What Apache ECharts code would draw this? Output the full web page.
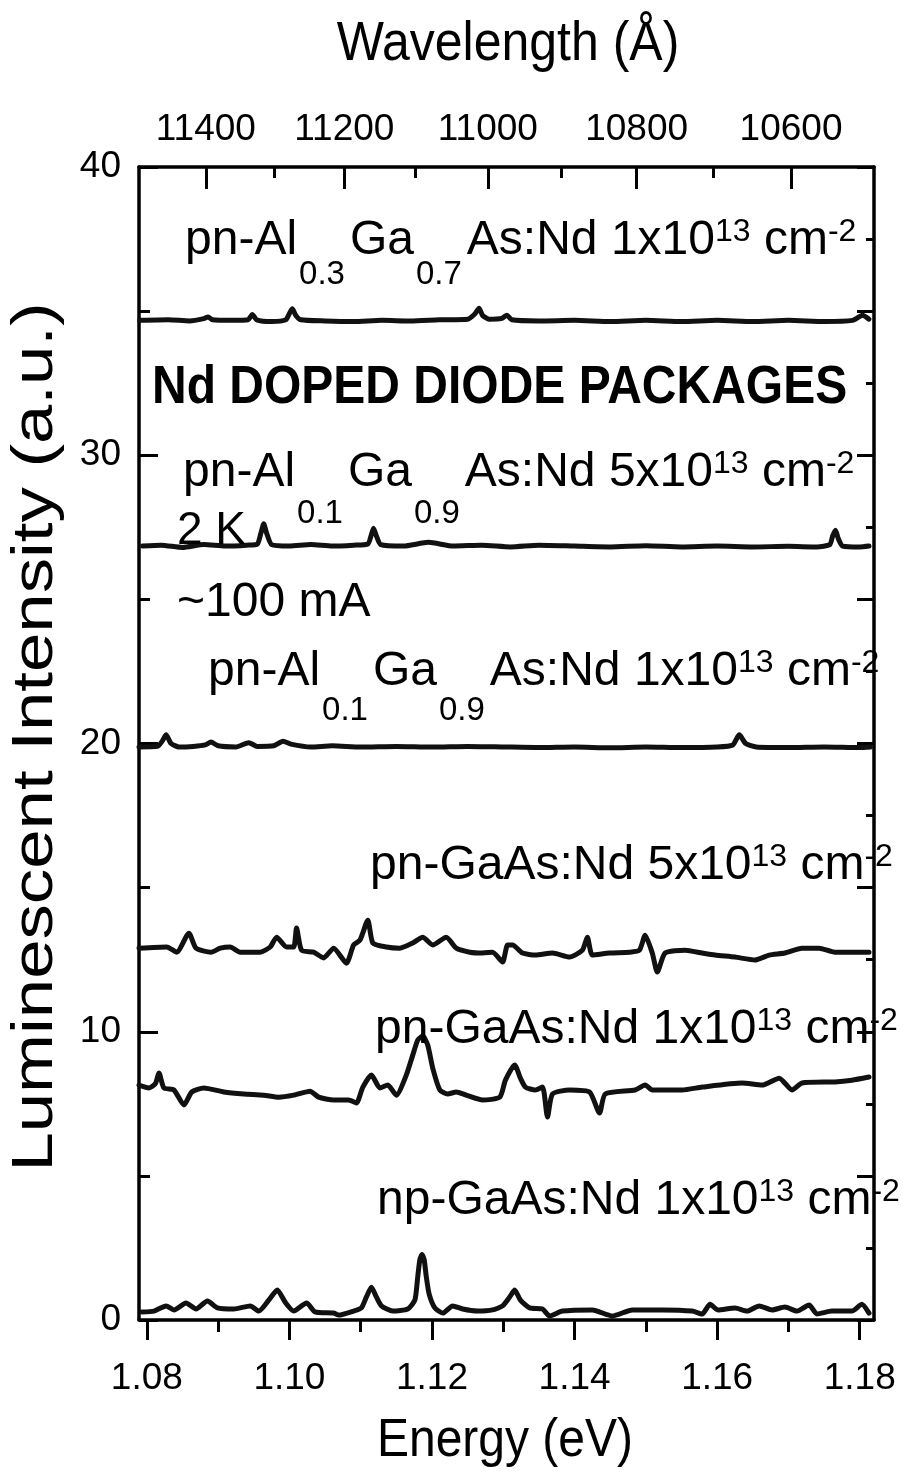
<!DOCTYPE html>
<html><head><meta charset="utf-8">
<script src="https://cdn.jsdelivr.net/npm/echarts@6/dist/echarts.min.js"></script>
<style>html,body{margin:0;padding:0;background:#fff}#c{width:923px;height:1474px}</style>
</head><body><div id="c"></div><script>
const FONT = '"Liberation Sans", Arial, Helvetica, sans-serif';
const HC = 12398.4; // eV * Angstrom

// Axis ticks
const energyTicks = [1.08, 1.10, 1.12, 1.14, 1.16, 1.18];
const energyMinorTicks = [1.09, 1.11, 1.13, 1.15, 1.17];
const wavelengthTicks = [11400, 11200, 11000, 10800, 10600];
const wavelengthMinorTicks = [11300, 11100, 10900, 10700];
const intensityMinorLeft = [5, 15, 25, 35];
const intensityMinorRight = [2.5, 7.5, 12.5, 17.5, 22.5, 27.5, 32.5, 37.5];

// Spectra: [energy (eV), intensity (a.u., offset)]
const pnAl03_1e13 = [[1.0790,34.68],[1.0830,34.70],[1.0860,34.66],[1.0880,34.74],[1.0886,34.80],[1.0892,34.70],[1.0920,34.68],[1.0942,34.70],[1.0948,34.88],[1.0954,34.70],[1.0975,34.64],[1.0995,34.70],[1.1000,34.92],[1.1004,35.08],[1.1009,34.85],[1.1016,34.70],[1.1050,34.66],[1.1090,34.64],[1.1130,34.68],[1.1170,34.66],[1.1210,34.70],[1.1250,34.72],[1.1260,34.90],[1.1266,35.10],[1.1271,34.85],[1.1280,34.72],[1.1298,34.75],[1.1305,34.86],[1.1312,34.70],[1.1350,34.66],[1.1400,34.68],[1.1450,34.64],[1.1500,34.68],[1.1550,34.64],[1.1600,34.68],[1.1650,34.64],[1.1700,34.68],[1.1750,34.64],[1.1790,34.68],[1.1804,34.86],[1.1813,34.72]];
const pnAl01_5e13 = [[1.0794,26.85],[1.0820,26.88],[1.0850,26.80],[1.0880,26.90],[1.0910,26.85],[1.0940,26.88],[1.0955,26.92],[1.0960,27.30],[1.0964,27.62],[1.0968,27.30],[1.0975,26.90],[1.1000,26.85],[1.1030,26.90],[1.1060,26.85],[1.1090,26.88],[1.1110,26.92],[1.1115,27.25],[1.1118,27.47],[1.1122,27.20],[1.1128,26.90],[1.1160,26.85],[1.1195,26.98],[1.1230,26.85],[1.1270,26.88],[1.1310,26.82],[1.1350,26.88],[1.1400,26.85],[1.1450,26.82],[1.1500,26.86],[1.1550,26.82],[1.1600,26.85],[1.1650,26.82],[1.1700,26.84],[1.1740,26.82],[1.1758,26.90],[1.1762,27.20],[1.1766,27.40],[1.1770,27.10],[1.1776,26.85],[1.1800,26.82],[1.1813,26.85]];
const pnAl01_1e13 = [[1.0789,19.88],[1.0815,19.90],[1.0822,20.10],[1.0827,20.30],[1.0834,20.00],[1.0845,19.88],[1.0865,19.90],[1.0882,19.95],[1.0890,20.05],[1.0900,19.92],[1.0925,19.88],[1.0943,20.03],[1.0955,19.90],[1.0978,19.92],[1.0991,20.08],[1.1002,19.98],[1.1030,19.88],[1.1060,19.92],[1.1100,19.88],[1.1150,19.90],[1.1200,19.88],[1.1250,19.90],[1.1300,19.88],[1.1350,19.86],[1.1400,19.88],[1.1450,19.85],[1.1500,19.88],[1.1550,19.86],[1.1600,19.88],[1.1622,19.95],[1.1631,20.30],[1.1640,20.00],[1.1655,19.88],[1.1700,19.86],[1.1750,19.88],[1.1800,19.86],[1.1815,19.88]];
const pnGaAs_5e13 = [[1.0789,12.90],[1.0828,12.94],[1.0842,12.76],[1.0859,13.42],[1.0869,12.90],[1.0890,12.76],[1.0903,12.90],[1.0917,12.94],[1.0931,12.76],[1.0959,12.76],[1.0973,12.94],[1.0982,13.28],[1.0996,12.94],[1.1006,12.94],[1.1010,13.60],[1.1017,12.83],[1.1034,12.76],[1.1048,12.56],[1.1062,12.90],[1.1080,12.38],[1.1090,13.01],[1.1099,13.18],[1.1110,13.87],[1.1117,13.08],[1.1136,12.94],[1.1155,12.90],[1.1173,13.08],[1.1187,13.28],[1.1201,13.01],[1.1220,13.28],[1.1234,12.90],[1.1253,12.76],[1.1271,12.73],[1.1285,12.76],[1.1299,12.42],[1.1306,13.01],[1.1313,13.01],[1.1327,12.73],[1.1345,12.66],[1.1369,12.73],[1.1393,12.59],[1.1411,12.83],[1.1418,13.28],[1.1425,12.66],[1.1449,12.73],[1.1477,12.76],[1.1491,12.83],[1.1499,13.35],[1.1509,12.73],[1.1516,12.07],[1.1527,12.73],[1.1555,12.83],[1.1579,12.73],[1.1597,12.66],[1.1625,12.59],[1.1653,12.49],[1.1673,12.66],[1.1695,12.73],[1.1719,12.90],[1.1743,12.90],[1.1765,12.76],[1.1789,12.76],[1.1813,12.76]];
const pnGaAs_1e13 = [[1.0789,8.15],[1.0803,8.05],[1.0812,8.20],[1.0817,8.57],[1.0824,8.05],[1.0838,7.98],[1.0852,7.46],[1.0863,7.91],[1.0880,8.05],[1.0908,7.91],[1.0936,7.84],[1.0964,7.80],[1.0985,7.73],[1.1006,7.80],[1.1029,7.94],[1.1041,7.73],[1.1062,7.63],[1.1083,7.63],[1.1094,7.53],[1.1103,8.08],[1.1115,8.50],[1.1127,8.05],[1.1138,8.15],[1.1150,7.80],[1.1164,8.50],[1.1173,9.19],[1.1180,9.71],[1.1187,9.85],[1.1194,9.54],[1.1201,8.74],[1.1211,7.98],[1.1222,7.84],[1.1234,7.91],[1.1248,7.80],[1.1271,7.63],[1.1295,7.73],[1.1303,8.32],[1.1316,8.85],[1.1324,8.39],[1.1331,8.08],[1.1345,7.98],[1.1355,8.08],[1.1362,7.04],[1.1369,7.84],[1.1393,7.98],[1.1421,7.91],[1.1435,7.18],[1.1443,7.84],[1.1485,7.98],[1.1499,8.15],[1.1509,7.98],[1.1551,7.98],[1.1579,8.08],[1.1635,8.22],[1.1663,8.15],[1.1687,8.39],[1.1705,7.98],[1.1719,8.22],[1.1765,8.26],[1.1789,8.32],[1.1813,8.43]];
const npGaAs_1e13 = [[1.0793,0.28],[1.0810,0.31],[1.0827,0.49],[1.0838,0.35],[1.0855,0.59],[1.0869,0.38],[1.0885,0.66],[1.0899,0.42],[1.0922,0.38],[1.0945,0.49],[1.0957,0.31],[1.0971,0.69],[1.0983,1.04],[1.0994,0.62],[1.1006,0.31],[1.1024,0.59],[1.1036,0.28],[1.1062,0.24],[1.1069,0.17],[1.1090,0.31],[1.1101,0.42],[1.1108,0.80],[1.1115,1.14],[1.1122,0.80],[1.1129,0.49],[1.1145,0.31],[1.1166,0.38],[1.1176,0.69],[1.1180,1.50],[1.1183,2.10],[1.1186,2.27],[1.1189,2.10],[1.1192,1.50],[1.1196,0.90],[1.1204,0.42],[1.1215,0.24],[1.1229,0.49],[1.1243,0.38],[1.1264,0.31],[1.1285,0.35],[1.1299,0.49],[1.1309,0.80],[1.1316,1.04],[1.1324,0.69],[1.1337,0.42],[1.1355,0.38],[1.1365,0.14],[1.1383,0.31],[1.1425,0.35],[1.1453,0.14],[1.1481,0.35],[1.1523,0.35],[1.1565,0.31],[1.1579,0.21],[1.1590,0.55],[1.1601,0.35],[1.1625,0.42],[1.1642,0.31],[1.1659,0.49],[1.1677,0.35],[1.1695,0.45],[1.1712,0.31],[1.1729,0.52],[1.1740,0.21],[1.1761,0.31],[1.1789,0.31],[1.1803,0.55],[1.1813,0.24]];

const spectra = [pnAl03_1e13, pnAl01_5e13, pnAl01_1e13, pnGaAs_5e13, pnGaAs_1e13, npGaAs_1e13];

const chart = echarts.init(document.getElementById('c'), null, {renderer: 'canvas'});

const lineW = 3.5;
function baseX(extra) {
  return Object.assign({
    type: 'value', min: 1.0789, max: 1.182, gridIndex: 0,
    splitLine: {show: false},
    axisLine: {show: false, onZero: false},
    axisLabel: {show: false},
    axisTick: {show: false}
  }, extra);
}
function baseY(extra) {
  return Object.assign({
    type: 'value', min: 0, max: 40, interval: 10, gridIndex: 0,
    splitLine: {show: false},
    axisLine: {show: false, onZero: false},
    axisLabel: {show: false},
    axisTick: {show: false}
  }, extra);
}
const tickStyle = {color: '#000', width: 3};
const labelStyle = {color: '#000', fontSize: 37, fontFamily: FONT};

const xAxes = [
  baseX({position: 'bottom',
    axisLine: {show: true, onZero: false, lineStyle: {color: '#000', width: lineW}},
    axisTick: {show: true, inside: false, length: 20, customValues: energyTicks, lineStyle: tickStyle},
    axisLabel: Object.assign({show: true, margin: 40, customValues: energyTicks, formatter: v => v.toFixed(2)}, labelStyle)}),
  baseX({position: 'bottom',
    axisTick: {show: true, inside: false, length: 12, customValues: energyMinorTicks, lineStyle: tickStyle}}),
  baseX({position: 'top', min: 1.0782, max: 1.1813,
    axisLine: {show: true, onZero: false, lineStyle: {color: '#000', width: lineW}},
    axisTick: {show: true, inside: true, length: 22, customValues: wavelengthTicks.map(l => HC / l), lineStyle: tickStyle},
    axisLabel: Object.assign({show: true, margin: 19, customValues: wavelengthTicks.map(l => HC / l),
      formatter: v => String(Math.round(HC / v / 100) * 100)}, labelStyle)}),
  baseX({position: 'top', min: 1.0782, max: 1.1813,
    axisTick: {show: true, inside: true, length: 11, customValues: wavelengthMinorTicks.map(l => HC / l), lineStyle: tickStyle}})
];
const yAxes = [
  baseY({position: 'left',
    axisLine: {show: true, onZero: false, lineStyle: {color: '#000', width: lineW}},
    axisTick: {show: true, inside: true, length: 19, lineStyle: tickStyle},
    axisLabel: Object.assign({show: true, margin: 18}, labelStyle)}),
  baseY({position: 'left',
    axisTick: {show: true, inside: true, length: 11, customValues: intensityMinorLeft, lineStyle: tickStyle}}),
  baseY({position: 'right', interval: 5,
    axisLine: {show: true, onZero: false, lineStyle: {color: '#000', width: lineW}},
    axisTick: {show: true, inside: true, length: 17, lineStyle: tickStyle}}),
  baseY({position: 'right',
    axisTick: {show: true, inside: true, length: 8, customValues: intensityMinorRight, lineStyle: tickStyle}})
];

const series = spectra.map(d => ({
  type: 'line', data: d, xAxisIndex: 0, yAxisIndex: 0,
  showSymbol: false, symbol: 'none', smooth: 0.2,
  lineStyle: {color: '#111', width: 5, join: 'round', cap: 'round'},
  silent: true, z: 3
}));

// text helpers
const mctx = document.createElement('canvas').getContext('2d');
function tw(text, size, weight) {
  mctx.font = (weight || 'normal') + ' ' + size + 'px ' + FONT;
  return mctx.measureText(text).width;
}
const MAIN = 48, SUB = 33, SUP = 32;
function chemLabel(x, y, parts, subDy) {
  const els = [];
  let cx = x;
  parts.forEach(([t, kind]) => {
    const size = kind === 'sub' ? SUB : kind === 'sup' ? SUP : MAIN;
    const dy = kind === 'sub' ? (subDy || 38) : kind === 'sup' ? -9 : 0;
    if (kind === 'sub') cx += 2;
    els.push({type: 'text', x: cx, y: y + dy, z: 100, silent: true,
      style: {text: t, fontSize: size, fontFamily: FONT, fill: '#000', align: 'left', verticalAlign: 'middle'}});
    cx += tw(t, size) + (kind === 'sub' ? 5 : 0);
  });
  return els;
}
function plain(x, y, text, opts) {
  opts = opts || {};
  return {type: 'text', x: x, y: y, z: 100, silent: true, rotation: opts.rotation || 0,
    scaleX: opts.scaleX || 1, scaleY: opts.scaleY || 1,
    style: {text: text, fontSize: opts.size || MAIN, fontWeight: opts.weight || 'normal', fontFamily: FONT,
      fill: '#000', align: opts.align || 'left', verticalAlign: 'middle'}};
}

const graphics = [].concat(
  plain(508, 45, 'Wavelength (Å)', {align: 'center', size: 50, scaleY: 1.12}),
  plain(505, 1441, 'Energy (eV)', {align: 'center', size: 48, scaleY: 1.12}),
  plain(36, 737, 'Luminescent Intensity (a.u.)', {align: 'center', size: 58, rotation: Math.PI / 2, scaleX: 1.22}),
  chemLabel(185, 241, [['pn-Al', 'n'], ['0.3', 'sub'], ['Ga', 'n'], ['0.7', 'sub'], ['As:Nd 1x10', 'n'], ['13', 'sup'], [' cm', 'n'], ['-2', 'sup']], 34),
  plain(152, 388, 'Nd DOPED DIODE PACKAGES', {size: 48, weight: 'bold', scaleY: 1.1}),
  chemLabel(183, 473, [['pn-Al', 'n'], ['0.1', 'sub'], ['Ga', 'n'], ['0.9', 'sub'], ['As:Nd 5x10', 'n'], ['13', 'sup'], [' cm', 'n'], ['-2', 'sup']], 41),
  plain(177, 531, '2 K', {size: 46}),
  plain(177, 603, '~100 mA', {size: 48}),
  chemLabel(208, 672, [['pn-Al', 'n'], ['0.1', 'sub'], ['Ga', 'n'], ['0.9', 'sub'], ['As:Nd 1x10', 'n'], ['13', 'sup'], [' cm', 'n'], ['-2', 'sup']], 39),
  chemLabel(370, 866, [['pn-GaAs:Nd 5x10', 'n'], ['13', 'sup'], [' cm', 'n'], ['-2', 'sup']]),
  chemLabel(375, 1030, [['pn-GaAs:Nd 1x10', 'n'], ['13', 'sup'], [' cm', 'n'], ['-2', 'sup']]),
  chemLabel(377, 1201, [['np-GaAs:Nd 1x10', 'n'], ['13', 'sup'], [' cm', 'n'], ['-2', 'sup']])
);

chart.setOption({
  animation: false,
  backgroundColor: '#fff',
  grid: {left: 139, top: 167, width: 735, height: 1153, containLabel: false},
  xAxis: xAxes,
  yAxis: yAxes,
  series: series,
  graphic: graphics
});
</script></body></html>
